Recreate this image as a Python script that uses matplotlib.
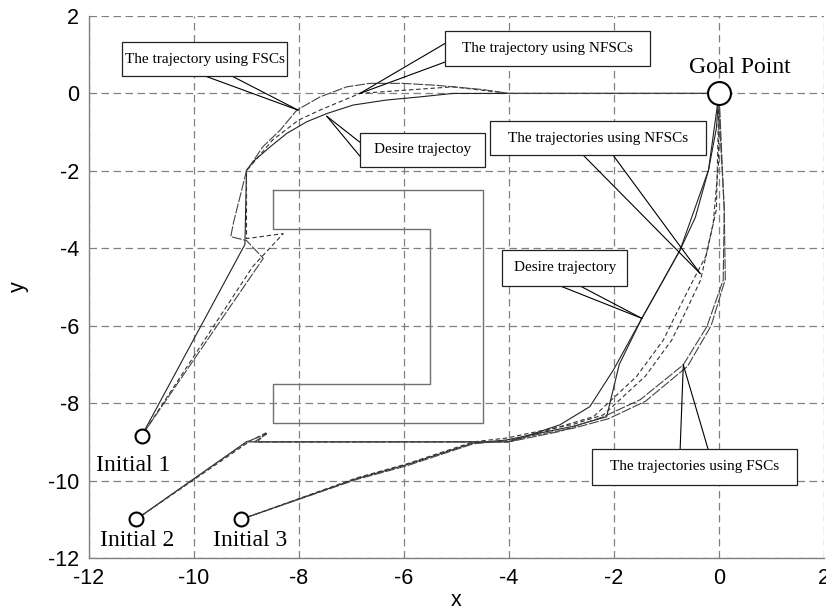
import matplotlib
matplotlib.use("Agg")
import matplotlib.pyplot as plt
from matplotlib.patches import Rectangle

plt.rcParams["axes.unicode_minus"] = False

# obstacle outline
obs_x = [-8.5, -4.5, -4.5, -8.5, -8.5, -5.5, -5.5, -8.5, -8.5]
obs_y = [-2.5, -2.5, -8.5, -8.5, -7.5, -7.5, -3.5, -3.5, -2.5]

# start / goal points
start_x = [-11.0, -11.1, -9.1]
start_y = [-8.85, -11.0, -11.0]
start_names = ["Initial 1", "Initial 2", "Initial 3"]
goal_x, goal_y = 0.0, 0.0

# trajectories from Initial 1
des1_x = [-11.0, -9.03, -9.0, -8.84, -8.55, -8.23, -7.85, -7.47, -6.97, -6.33, -5.7, -5.07, 0.0]
des1_y = [-8.85, -3.9, -1.98, -1.72, -1.38, -1.03, -0.73, -0.52, -0.30, -0.17, -0.09, 0.0, 0.0]
nfsc1_x = [-11.0, -8.88, -8.3, -9.0, -9.0, -8.5, -8.01, -7.6, -6.84, -6.02, -5.07, -4.5, -4.0, 0.0]
nfsc1_y = [-8.85, -4.47, -3.62, -3.75, -2.0, -1.2, -0.69, -0.43, 0.0, 0.08, 0.17, 0.08, 0.0, 0.0]
fsc1_x = [-11.0, -8.68, -9.0, -9.3, -9.25, -9.0, -8.69, -8.36, -8.04, -7.6, -7.09, -6.65, -6.02, -5.38, -4.5, -4.0, 0.0]
fsc1_y = [-8.85, -4.26, -3.8, -3.7, -3.35, -2.0, -1.38, -0.95, -0.43, -0.09, 0.17, 0.26, 0.26, 0.21, 0.1, 0.0, 0.0]

# trajectories from Initial 2
des2_x = [-11.1, -9.0, -4.0, -3.03, -2.46, -2.01, -1.47, -1.06, -0.74, -0.45, -0.2, -0.05, 0.0]
des2_y = [-11.0, -9.0, -9.0, -8.56, -8.09, -7.14, -5.81, -4.82, -4.04, -3.2, -1.98, -0.9, 0.0]
nfsc2_x = [-11.1, -8.9, -8.6, -8.8, -4.0, -2.39, -1.57, -1.06, -0.81, -0.49, -0.25, -0.11, -0.01, 0.0]
nfsc2_y = [-11.0, -8.95, -8.75, -9.0, -9.0, -8.35, -7.31, -6.37, -5.68, -4.82, -4.2, -3.35, -1.81, 0.0]
fsc2_x = [-11.1, -9.0, -8.62, -8.85, -4.0, -3.03, -2.2, -1.5, -0.68, -0.23, 0.08, 0.1, 0.02, 0.0]
fsc2_y = [-11.0, -9.0, -8.8, -9.0, -9.0, -8.73, -8.35, -7.91, -7.01, -6.02, -4.82, -3.0, -1.0, 0.0]

# trajectories from Initial 3
des3_x = [-9.1, -6.9, -5.95, -4.68, -4.04, -3.41, -2.78, -2.14, -1.9, -1.47, -1.06, -0.74, -0.2, 0.0]
des3_y = [-11.0, -9.95, -9.59, -9.03, -8.95, -8.77, -8.6, -8.35, -7.0, -5.81, -4.82, -4.04, -1.98, 0.0]
nfsc3_x = [-9.1, -6.9, -5.95, -4.68, -4.04, -3.41, -2.78, -2.2, -1.4, -0.9, -0.65, -0.35, -0.05, 0.0]
nfsc3_y = [-11.0, -9.93, -9.57, -9.0, -8.9, -8.72, -8.55, -8.3, -7.3, -6.37, -5.68, -4.82, -3.0, 0.0]
fsc3_x = [-9.1, -6.9, -5.95, -4.68, -4.04, -3.41, -2.78, -2.1, -1.4, -0.6, -0.15, 0.12, 0.1, 0.0]
fsc3_y = [-11.0, -9.97, -9.62, -9.05, -8.97, -8.8, -8.65, -8.4, -7.95, -7.05, -6.0, -4.8, -3.0, 0.0]

serif = "Liberation Serif"
sans = "Liberation Sans"

fig = plt.figure(figsize=(8.26, 6.12), dpi=100)
ax = fig.add_axes([89 / 826, 54 / 612, 735 / 826, 542 / 612])
ax.set_xlim(-12, 2)
ax.set_ylim(-12, 2)
ax.set_xticks(range(-12, 3, 2))
ax.set_yticks(range(-12, 3, 2))
ax.grid(True, color="#808080", lw=0.9, linestyle=(0, (6, 3.6)))
ax.set_axisbelow(True)
for s in ["top", "right"]:
    ax.spines[s].set_visible(False)
for s in ["left", "bottom"]:
    ax.spines[s].set_color("#808080")
    ax.spines[s].set_linewidth(1.0)
ax.tick_params(length=0, pad=7, labelsize=15.5)
for lab in ax.get_xticklabels() + ax.get_yticklabels():
    lab.set_fontfamily(sans)
ax.set_xlabel("x", fontsize=15.5, fontfamily=sans, labelpad=1)
ax.set_ylabel("y", fontsize=15.5, fontfamily=sans, labelpad=14)

# trajectories
for xs, ys in [(des1_x, des1_y), (des2_x, des2_y), (des3_x, des3_y)]:
    ax.plot(xs, ys, color="#222222", lw=0.8)
for xs, ys in [(nfsc1_x, nfsc1_y), (nfsc2_x, nfsc2_y), (nfsc3_x, nfsc3_y)]:
    ax.plot(xs, ys, color="#333333", lw=0.8, linestyle=(0, (4, 2.5)))
for xs, ys in [(fsc1_x, fsc1_y), (fsc2_x, fsc2_y), (fsc3_x, fsc3_y)]:
    ax.plot(xs, ys, color="#444444", lw=0.8, linestyle=(0, (9, 1.5)))

# obstacle
ax.plot(obs_x, obs_y, color="#707070", lw=1.0)

# start and goal markers
ax.plot(start_x, start_y, "o", ms=10, mfc="white", mec="black", mew=1.5, ls="none", zorder=5)
ax.plot(goal_x, goal_y, "o", ms=16.5, mfc="white", mec="black", mew=1.5, zorder=5)
ax.text(0.4, 0.53, "Goal Point", fontsize=17, fontfamily=serif, ha="center", va="baseline")
label_pos = [(-11.16, -9.75), (-11.09, -11.7), (-8.94, -11.7)]
for name, (lx, ly) in zip(start_names, label_pos):
    ax.text(lx, ly, name, fontsize=17, fontfamily=serif, ha="center", va="baseline")

# callout boxes: (text, x0, x1, y0, y1, line starts, tip)
callouts = [
    ("The trajectory using FSCs", -11.37, -8.23, 0.45, 1.32,
     [(-9.79, 0.45), (-9.28, 0.45)], (-8.02, -0.43)),
    ("The trajectory using NFSCs", -5.22, -1.31, 0.70, 1.61,
     [(-5.22, 1.29), (-5.22, 0.81)], (-6.84, 0.0)),
    ("Desire trajectoy", -6.84, -4.46, -1.90, -1.02,
     [(-6.84, -1.26), (-6.84, -1.62)], (-7.47, -0.59)),
    ("The trajectories using NFSCs", -4.36, -0.25, -1.59, -0.72,
     [(-2.59, -1.59), (-2.02, -1.59)], (-0.36, -4.65)),
    ("Desire trajectory", -4.13, -1.75, -4.97, -4.04,
     [(-3.03, -4.97), (-2.65, -4.97)], (-1.47, -5.81)),
    ("The trajectories using FSCs", -2.42, 1.49, -10.11, -9.18,
     [(-0.74, -9.18), (-0.21, -9.18)], (-0.68, -7.01)),
]
for text, x0, x1, y0, y1, starts, tip in callouts:
    for sx, sy in starts:
        ax.plot([sx, tip[0]], [sy, tip[1]], color="black", lw=0.8, zorder=6)
    ax.add_patch(Rectangle((x0, y0), x1 - x0, y1 - y0, facecolor="white",
                           edgecolor="#222222", lw=0.9, zorder=7))
    ax.text((x0 + x1) / 2, (y0 + y1) / 2, text, fontsize=11, fontfamily=serif,
            ha="center", va="center", zorder=8)

fig.savefig("out.png", dpi=100)
